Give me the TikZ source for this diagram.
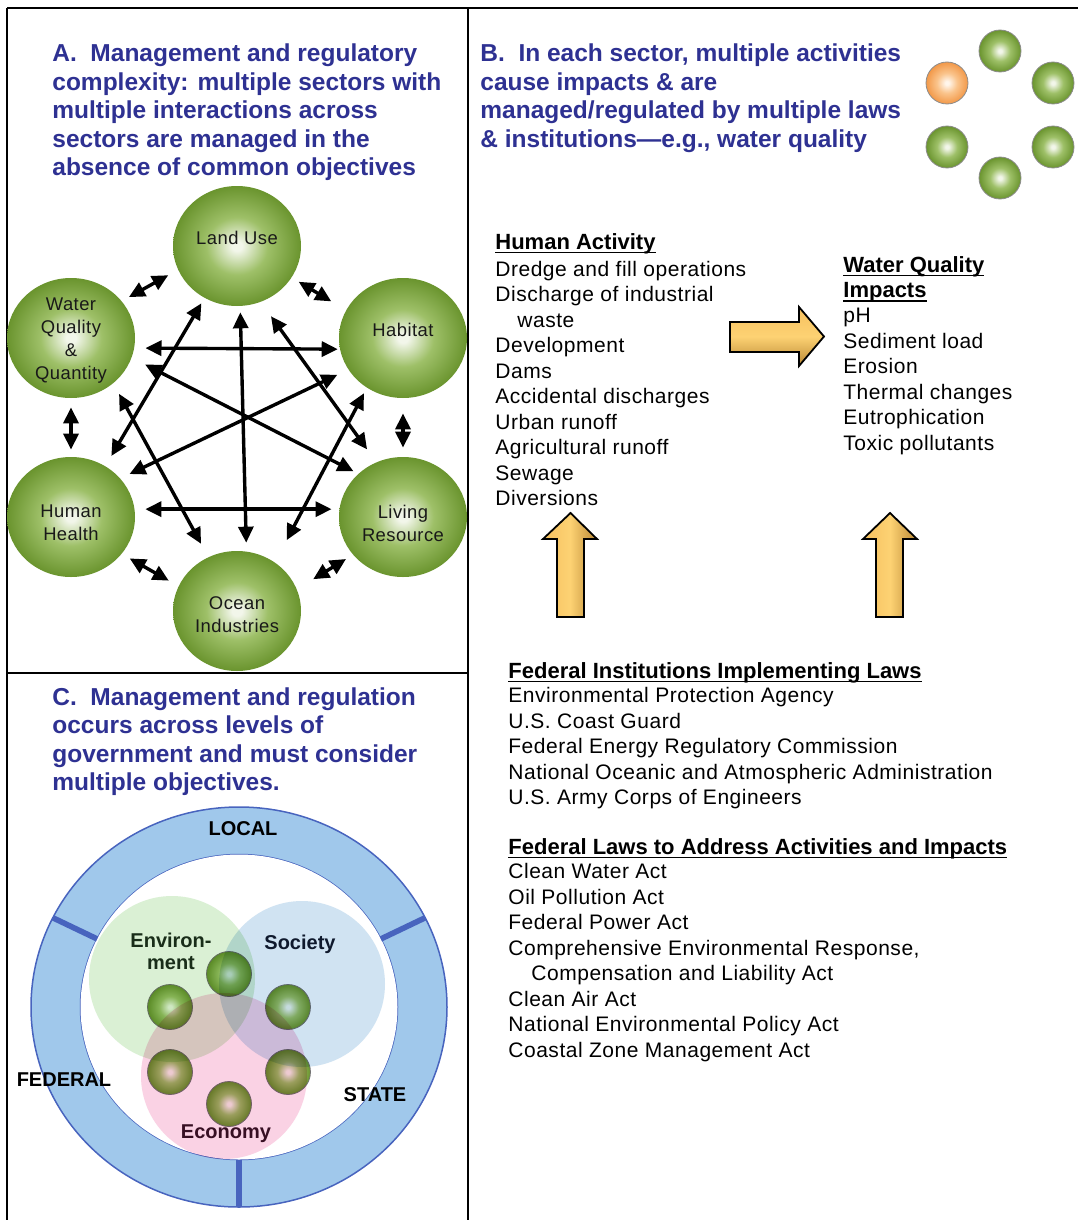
\documentclass[tikz,border=0pt]{standalone}
\usepackage{fontspec}
\setmainfont{Liberation Sans}
\newfontfamily\spaced[LetterSpace=2.5]{Liberation Sans}
\usetikzlibrary{arrows.meta, shapes.geometric}

\definecolor{headblue}{RGB}{46,49,146}
\definecolor{ballhi}{RGB}{242,246,234}
\definecolor{ballmid}{RGB}{158,192,104}
\definecolor{balledge}{RGB}{106,148,46}
\definecolor{orangehi}{RGB}{255,246,236}
\definecolor{orangemid}{RGB}{250,196,140}
\definecolor{orangeedge}{RGB}{242,152,72}
\definecolor{arrhi}{RGB}{253,210,115}
\definecolor{arrmid}{RGB}{246,192,95}
\definecolor{arrdk}{RGB}{186,136,52}
\definecolor{ringfill}{RGB}{160,200,235}
\definecolor{ringline}{RGB}{72,100,190}
\definecolor{envfill}{RGB}{218,240,212}
\definecolor{socfill}{RGB}{208,227,242}
\definecolor{ecofill}{RGB}{250,210,228}
\definecolor{envtext}{RGB}{25,45,25}
\definecolor{soctext}{RGB}{15,25,45}
\definecolor{ecotext}{RGB}{55,15,35}

\pgfdeclareradialshading{greenball}{\pgfpointorigin}{color(0bp)=(ballhi); color(2bp)=(ballhi); color(12bp)=(ballmid); color(25bp)=(balledge); color(50bp)=(balledge)}
\pgfdeclareradialshading{orangeball}{\pgfpointorigin}{color(0bp)=(orangehi); color(2bp)=(orangehi); color(12bp)=(orangemid); color(25bp)=(orangeedge); color(50bp)=(orangeedge)}

\newcommand{\ulhead}[1]{\setbox0=\hbox{#1}\rlap{\rule[-2.2pt]{\wd0}{0.9pt}}\box0}

\tikzset{
  frame/.style={line width=1pt},
  heading/.style={anchor=base west, align=left, inner sep=0pt, text=headblue, font=\bfseries\fontsize{12.25}{14.25}\selectfont},
  subhead/.style={anchor=base west, align=left, inner sep=0pt, font=\bfseries\fontsize{11}{12.6}\selectfont},
  listtext/.style={anchor=base west, align=left, inner sep=0pt, font=\spaced\fontsize{10.5}{12.75}\selectfont},
  sector/.style={ellipse, minimum width=64pt, minimum height=60pt, inner sep=0pt, shading=greenball},
  sectortext/.style={align=center, inner sep=0pt, text=black!90, font=\spaced\fontsize{9.2}{11.5}\selectfont},
  link/.style={<->, line width=1.7pt},
  smallball/.style={circle, minimum size=21pt, inner sep=0pt, draw=black!45, line width=0.4pt, shading=greenball},
  vball/.style={circle, minimum size=22.5pt, inner sep=0pt, draw=black!55, line width=0.4pt, shading=greenball},
  venn/.style={circle, minimum size=83pt, inner sep=0pt},
  vennlabel/.style={align=center, inner sep=0pt, font=\bfseries\fontsize{10}{11}\selectfont},
  blockarrow/.style={draw=black, line width=0.9pt, line join=miter},
  ringband/.style={fill=ringfill, draw=ringline, line width=0.75pt},
  divider/.style={draw=ringline, line width=2.8pt}
}

\begin{document}
\begin{tikzpicture}[x=0.5pt, y=-0.5pt, >={Triangle[length=8pt, width=7.5pt]}]
\useasboundingbox (0,0) rectangle (1078,1220);

\draw[frame] (7,8) -- (1078,8) (7,8) -- (7,1220) (468,8) -- (468,1220) (7,673) -- (468,673);

% panel A (multi-line texts sit on their last line)
\node[heading] (titleA) at (52,176) {A.\ \ Management and regulatory\\complexity: multiple sectors with\\multiple interactions across\\sectors are managed in the\\absence of common objectives};

\node[sector, label={[sectortext, yshift=4pt]center:Land Use}] (lu) at (237,246) {};
\node[sector, label={[sectortext, yshift=4pt]center:Habitat}] (hab) at (403,338) {};
\node[sector, label={[sectortext, yshift=-3pt]center:{Living\\Resource}}] (liv) at (403,517) {};
\node[sector, label={[sectortext, yshift=-1.75pt]center:{Ocean\\Industries}}] (oc) at (237,611) {};
\node[sector, label={[sectortext, yshift=-3pt]center:{Human\\Health}}] (hh) at (71,517) {};
\node[sector, label={[sectortext, yshift=-1.25pt]center:{Water\\Quality\\\&\\Quantity}}] (wq) at (71,338) {};

\path[link]
  (lu.202)  edge[shorten <=5.5pt, shorten >=4pt]    (wq.36)
  (lu.-30)  edge[shorten <=4pt, shorten >=8.5pt]    (hab.154)
  (hab.south) edge[shorten <=7.5pt, shorten >=4.5pt] (liv.north)
  (wq.south) edge[shorten <=4.5pt, shorten >=3.5pt] (hh.north)
  (hh.-36)  edge[shorten <=4.5pt, shorten >=5.5pt]  (oc.157)
  (liv.217) edge[shorten <=4pt, shorten >=9.5pt]    (oc.20)
  (wq.-9)   edge[shorten <=5.5pt, shorten >=1pt]    (hab.190)
  (hh.7)    edge[shorten <=5.25pt, shorten >=3.8pt] (liv.173)
  (lu.-87)  edge[shorten <=3pt, shorten >=4.3pt]    (oc.81)
  (lu.238)  edge[shorten <=3pt, shorten >=5.8pt]    (hh.56)
  (lu.-67)  edge[shorten <=8.7pt, shorten >=7.8pt]  (liv.116)
  (wq.-18)  edge[shorten <=7.5pt, shorten >=2.6pt]  (liv.136)
  (hab.210) edge[shorten <=6pt, shorten >=5pt]      (hh.38)
  (wq.-47)  edge[shorten <=5.9pt, shorten >=7.5pt]  (oc.118)
  (hab.234) edge[shorten <=3pt, shorten >=12.5pt]   (oc.52);

% panel B
\node[heading] (titleB) at (480,147.5) {B.\ \ In each sector, multiple activities\\cause impacts \& are\\managed/regulated by multiple laws\\\& institutions—e.g., water quality};

\node[smallball, shading=orangeball] (sb1) at (947,83) {};
\node[smallball] (sb2) at (1000,51) {};
\node[smallball] (sb3) at (1053,83) {};
\node[smallball] (sb4) at (1053,147) {};
\node[smallball] (sb5) at (1000,178) {};
\node[smallball] (sb6) at (947,147) {};

\node[subhead] (acthead) at (495,249) {\ulhead{Human Activity}};
\node[listtext] (actlist) at (495,505.5) {Dredge and fill operations\\Discharge of industrial\\\hspace*{11pt}waste\\Development\\Dams\\Accidental discharges\\Urban runoff\\Agricultural runoff\\Sewage\\Diversions};

\node[subhead] (wqhead) at (843,297.2) {\ulhead{Water Quality}\\\ulhead{Impacts}};
\node[listtext] (wqlist) at (843,450) {pH\\Sediment load\\Erosion\\Thermal changes\\Eutrophication\\Toxic pollutants};

\shadedraw[blockarrow, top color=arrmid, bottom color=arrdk, middle color=arrhi] (730,322) -- (799,322) -- (799,307) -- (824,336.5) -- (799,366) -- (799,352) -- (730,352) -- cycle;
\shadedraw[blockarrow, left color=arrmid, right color=arrdk, middle color=arrhi] (557,617) -- (557,539) -- (543,539) -- (570.5,513) -- (597,539) -- (584,539) -- (584,617) -- cycle;
\shadedraw[blockarrow, left color=arrmid, right color=arrdk, middle color=arrhi] (876,617) -- (876,539) -- (863,539) -- (890,513) -- (917,539) -- (903,539) -- (903,617) -- cycle;

\node[subhead] (insthead) at (508,678) {\ulhead{Federal Institutions Implementing Laws}};
\node[listtext] (instlist) at (508,804.5) {Environmental Protection Agency\\U.S. Coast Guard\\Federal Energy Regulatory Commission\\National Oceanic and Atmospheric Administration\\U.S. Army Corps of Engineers};

\node[subhead] (lawhead) at (508,854) {\ulhead{Federal Laws to Address Activities and Impacts}};
\node[listtext] (lawlist) at (508,1057) {Clean Water Act\\Oil Pollution Act\\Federal Power Act\\Comprehensive Environmental Response,\\\hspace*{11.5pt}Compensation and Liability Act\\Clean Air Act\\National Environmental Policy Act\\Coastal Zone Management Act};

% panel C
\node[heading] (titleC) at (52,790.5) {C.\ \ Management and regulation\\occurs across levels of\\government and must consider\\multiple objectives.};

\coordinate (ring) at (239,1007);
\filldraw[ringband, even odd rule] (ring) ellipse [x radius=104pt, y radius=100pt] (ring) ellipse [x radius=79.25pt, y radius=76.25pt];
\fill[white] (ring) ellipse [x radius=79.25pt, y radius=76.25pt];
\draw[divider] ([shift={(153.5:79.25pt and 76.25pt)}]ring) -- ([shift={(153.5:104pt and 100pt)}]ring);
\draw[divider] ([shift={(26.5:79.25pt and 76.25pt)}]ring) -- ([shift={(26.5:104pt and 100pt)}]ring);
\draw[divider] ([shift={(270:79.25pt and 76.25pt)}]ring) -- ([shift={(270:104pt and 100pt)}]ring);

\node[vball] (vb1) at (229,974) {};
\node[vball] (vb2) at (170,1007) {};
\node[vball] (vb3) at (288,1007) {};
\node[vball] (vb4) at (170,1072) {};
\node[vball] (vb5) at (288,1072) {};
\node[vball] (vb6) at (229,1104) {};

\begin{scope}[blend mode=multiply]
  \node[venn, fill=envfill] (env) at (172,979) {};
  \node[venn, fill=socfill] (soc) at (302,984) {};
  \node[venn, fill=ecofill] (eco) at (224,1076) {};
\end{scope}

\node[vennlabel, text=envtext] (envtxt) at (171,951) {Environ-\\ment};
\node[vennlabel, text=soctext] (soctxt) at (300,944) {Society};
\node[vennlabel, text=ecotext] (ecotxt) at (226,1134) {Economy};

\node[vennlabel] (local) at (243,829) {LOCAL};
\node[vennlabel] (federal) at (64,1080) {FEDERAL};
\node[vennlabel] (state) at (375,1095) {STATE};
\end{tikzpicture}
\end{document}
